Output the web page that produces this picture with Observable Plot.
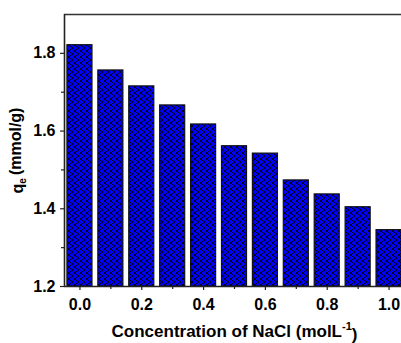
<!DOCTYPE html>
<html>
<head>
<meta charset="utf-8">
<script src="https://cdn.jsdelivr.net/npm/d3@7"></script>
<script src="https://cdn.jsdelivr.net/npm/@observablehq/plot@0.6"></script>
<style>
  html, body { margin: 0; padding: 0; background: #fff; overflow: hidden; }
  #chart { width: 401px; height: 343px; overflow: hidden; }
  svg { display: block; }
</style>
</head>
<body>
<div id="chart"></div>
<script>
// NaCl concentration (mol/L) and equilibrium adsorption capacity qe (mmol/g)
const concentrations = [0.0, 0.1, 0.2, 0.3, 0.4, 0.5, 0.6, 0.7, 0.8, 0.9, 1.0];
const qe = [1.821, 1.756, 1.715, 1.666, 1.617, 1.561, 1.542, 1.473, 1.437, 1.404, 1.345];

const xMajorTicks = [0.0, 0.2, 0.4, 0.6, 0.8, 1.0];
const xMinorTicks = [0.1, 0.3, 0.5, 0.7, 0.9];
const yMajorTicks = [1.2, 1.4, 1.6, 1.8];
const yMinorTicks = [1.3, 1.5, 1.7];

const xDomain = [-0.05, 1.05];
const yDomain = [1.2, 1.9];
const barHalfWidth = 0.0405;

const rows = concentrations.map((c, i) => ({c, q: qe[i]}));

const font = "'Liberation Sans', Arial, sans-serif";
const axisColor = "#222";

const chart = Plot.plot({
  width: 404,
  height: 343,
  marginTop: 14,
  marginBottom: 57,
  marginLeft: 64,
  marginRight: 0,
  style: {fontFamily: font, fontWeight: "bold", fontSize: "16px", color: "#000", background: "#fff"},
  x: {domain: xDomain},
  y: {domain: yDomain},
  marks: [
    // cross-hatched bars
    Plot.rectY(rows, {
      x1: d => d.c - barHalfWidth,
      x2: d => d.c + barHalfWidth,
      y1: () => yDomain[0],
      y2: "q",
      fill: "url(#hatch)",
      stroke: "#111",
      strokeWidth: 1.2
    }),
    // frame: bottom, top, left, right
    Plot.ruleY([yDomain[0]], {stroke: axisColor, strokeWidth: 1.6}),
    Plot.ruleY([yDomain[1]], {stroke: "#333", strokeWidth: 1.6}),
    Plot.ruleX([xDomain[0]], {stroke: axisColor, strokeWidth: 1.6}),
    Plot.ruleX([xDomain[1]], {stroke: "#333", strokeWidth: 1.6}),
    // x axis
    Plot.axisX({ticks: xMajorTicks, tickFormat: d3.format(".1f"), tickSize: 4, tickPadding: 8, label: null, stroke: axisColor, strokeWidth: 1.2}),
    Plot.axisX({ticks: xMinorTicks, tickFormat: () => "", tickSize: 3, label: null, stroke: axisColor, strokeWidth: 1.2}),
    // y axis
    Plot.axisY({ticks: yMajorTicks, tickFormat: d3.format(".1f"), tickSize: 4, tickPadding: 5, label: null, stroke: axisColor, strokeWidth: 1.2}),
    Plot.axisY({ticks: yMinorTicks, tickFormat: () => "", tickSize: 3, label: null, stroke: axisColor, strokeWidth: 1.2}),
    // axis titles
    Plot.text(["qe (mmol/g)"], {frameAnchor: "left", dx: -47, rotate: -90, textAnchor: "middle", lineAnchor: "middle", fontSize: 16, fontWeight: "bold", fill: "#000"}),
    Plot.text(["Concentration of NaCl (molL-1)"], {frameAnchor: "bottom", dy: 50, textAnchor: "middle", lineAnchor: "bottom", fontSize: 17, fontWeight: "bold", fill: "#000"})
  ]
});
chart.style.maxWidth = "none";

// cross-hatch pattern (two pixel diagonals per 6px tile) used as the bar fill
const svg = d3.select(chart);
const defs = svg.insert("defs", ":first-child");
const tile = 6;
const pat = defs.append("pattern")
  .attr("id", "hatch")
  .attr("patternUnits", "userSpaceOnUse")
  .attr("width", tile)
  .attr("height", tile);
pat.append("rect").attr("width", tile).attr("height", tile).attr("fill", "#0000ff");
d3.range(tile).forEach(k => {
  pat.append("rect").attr("x", k).attr("y", k).attr("width", 1).attr("height", 1)
    .attr("fill", "#000").attr("fill-opacity", 0.85).attr("shape-rendering", "crispEdges");
  pat.append("rect").attr("x", tile - 1 - k).attr("y", k).attr("width", 1).attr("height", 1)
    .attr("fill", "#000").attr("fill-opacity", 0.85).attr("shape-rendering", "crispEdges");
});

// subscript / superscript in the axis titles
svg.selectAll("text").each(function() {
  const t = d3.select(this);
  const s = this.textContent;
  if (s === "qe (mmol/g)") {
    t.text(null);
    t.append("tspan").text("q");
    t.append("tspan").attr("font-size", "10px").attr("dy", "0.3em").text("e");
    t.append("tspan").attr("dy", "-0.3em").attr("dx", "3").text("(mmol/g)");
  } else if (s === "Concentration of NaCl (molL-1)") {
    t.text(null);
    t.append("tspan").text("Concentration of NaCl (molL");
    t.append("tspan").attr("font-size", "11px").attr("dy", "-0.6em").text("-1");
    t.append("tspan").attr("dy", "0.6em").text(")");
  }
});

document.getElementById("chart").appendChild(chart);
</script>
</body>
</html>
